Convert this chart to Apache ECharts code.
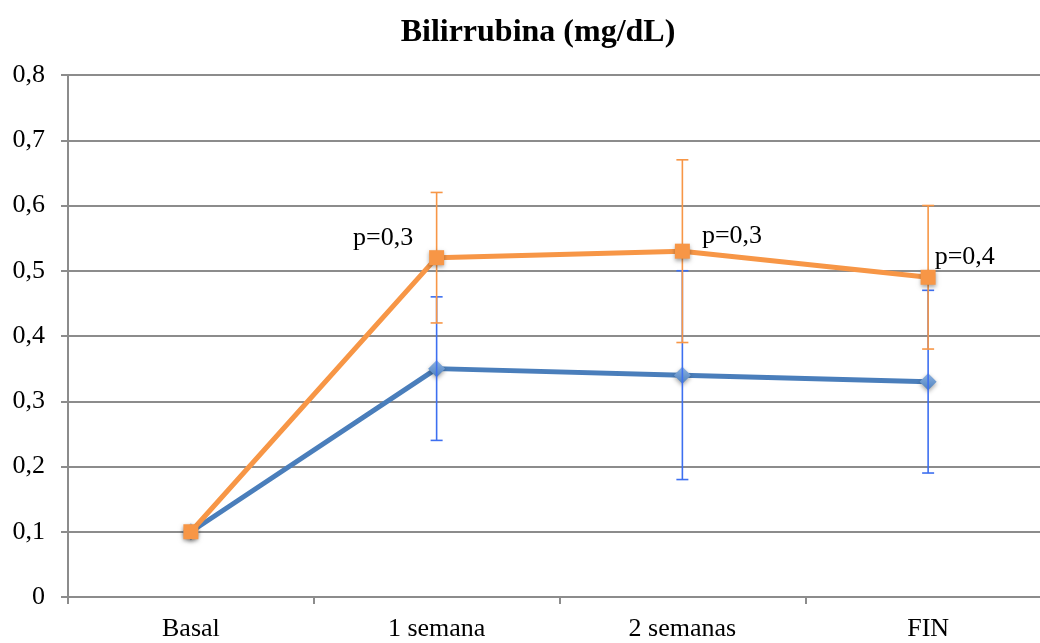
<!DOCTYPE html>
<html>
<head>
<meta charset="utf-8">
<script src="https://cdn.jsdelivr.net/npm/echarts@6/dist/echarts.min.js"></script>
<style>
  html, body { margin: 0; padding: 0; background: #fff; }
  #chart { width: 1040px; height: 643px; }
</style>
</head>
<body>
<div id="chart"></div>
<script>
// Bilirubin over time, two groups, with error bars and p-values
const categories = ['Basal', '1 semana', '2 semanas', 'FIN'];
const blueValues = [0.10, 0.35, 0.34, 0.33];
const blueLow = [null, 0.24, 0.18, 0.19];
const blueHigh = [null, 0.46, 0.50, 0.47];
const orangeValues = [0.10, 0.52, 0.53, 0.49];
const orangeLow = [null, 0.42, 0.39, 0.38];
const orangeHigh = [null, 0.62, 0.67, 0.60];
const pLabels = ['', 'p=0,3', 'p=0,3', 'p=0,4'];
const yTickLabels = ['0', '0,1', '0,2', '0,3', '0,4', '0,5', '0,6', '0,7', '0,8'];

const FONT = '"Liberation Serif", "Times New Roman", serif';
const BLUE = '#4A7EBB';
const BLUE_ERR = '#3D6FF0';
const ORANGE = '#F79646';

function errData(low, high) {
  const out = [];
  low.forEach((l, i) => { if (l !== null) out.push([i, l, high[i]]); });
  return out;
}

function errRender(color) {
  return function (params, api) {
    const x = api.value(0);
    const lo = api.coord([x, api.value(1)]);
    const hi = api.coord([x, api.value(2)]);
    const w = 6;
    const style = { stroke: color, lineWidth: 1.6 };
    return {
      type: 'group',
      children: [
        { type: 'line', shape: { x1: lo[0], y1: lo[1], x2: hi[0], y2: hi[1] }, style },
        { type: 'line', shape: { x1: hi[0] - w, y1: hi[1], x2: hi[0] + w, y2: hi[1] }, style },
        { type: 'line', shape: { x1: lo[0] - w, y1: lo[1], x2: lo[0] + w, y2: lo[1] }, style }
      ]
    };
  };
}

const labelPlacement = [
  null,
  { position: 'left', offset: [-11, -20] },
  { position: 'right', offset: [7, -15] },
  { position: 'right', offset: [-6, -20] }
];

const orangeData = orangeValues.map((v, i) => {
  const d = { value: v };
  if (pLabels[i]) {
    d.label = Object.assign({
      show: true,
      formatter: pLabels[i],
      color: '#000',
      fontFamily: FONT,
      fontSize: 26
    }, labelPlacement[i]);
  }
  return d;
});

const chart = echarts.init(document.getElementById('chart'), null, { renderer: 'canvas' });
chart.setOption({
  backgroundColor: '#fff',
  animation: false,
  title: {
    text: 'Bilirrubina (mg/dL)',
    left: 533,
    textAlign: 'center',
    top: 12,
    textStyle: { fontFamily: FONT, fontSize: 32, fontWeight: 'bold', color: '#000' }
  },
  grid: { left: 68, top: 75, width: 983, height: 522, outerBoundsMode: 'none', containLabel: false },
  xAxis: {
    type: 'category',
    data: categories,
    boundaryGap: true,
    axisLine: { lineStyle: { color: '#8c8c8c', width: 2 } },
    axisTick: { show: true, length: 7, lineStyle: { color: '#8c8c8c', width: 2 } },
    axisLabel: { fontFamily: FONT, fontSize: 26, color: '#000', margin: 19 }
  },
  yAxis: {
    type: 'value',
    min: 0,
    max: 0.8,
    interval: 0.1,
    axisLine: { show: true, lineStyle: { color: '#8c8c8c', width: 2 } },
    axisTick: { show: true, length: 7, lineStyle: { color: '#8c8c8c', width: 2 } },
    splitLine: { lineStyle: { color: '#8c8c8c', width: 2 } },
    axisLabel: {
      fontFamily: FONT, fontSize: 26, color: '#000', margin: 23,
      formatter: v => yTickLabels[Math.round(v * 10)]
    }
  },
  series: [
    {
      type: 'custom',
      name: 'errBlue',
      renderItem: errRender(BLUE_ERR),
      data: errData(blueLow, blueHigh),
      z: 3
    },
    {
      type: 'custom',
      name: 'errOrange',
      renderItem: errRender(ORANGE),
      data: errData(orangeLow, orangeHigh),
      z: 4
    },
    {
      type: 'line',
      name: 'A',
      data: blueValues,
      symbol: 'diamond',
      symbolSize: 17,
      lineStyle: { color: BLUE, width: 5 },
      itemStyle: {
        color: new echarts.graphic.LinearGradient(0, 0, 0, 1, [
          { offset: 0, color: '#8DB3E2' },
          { offset: 1, color: '#4F81BD' }
        ]),
        shadowColor: 'rgba(0,0,0,0.35)', shadowBlur: 4, shadowOffsetY: 2
      },
      z: 2
    },
    {
      type: 'line',
      name: 'B',
      data: orangeData,
      symbol: 'rect',
      symbolSize: 15,
      lineStyle: { color: ORANGE, width: 5 },
      itemStyle: {
        color: ORANGE,
        shadowColor: 'rgba(0,0,0,0.35)', shadowBlur: 4, shadowOffsetY: 2
      },
      z: 5
    }
  ]
});
</script>
</body>
</html>
